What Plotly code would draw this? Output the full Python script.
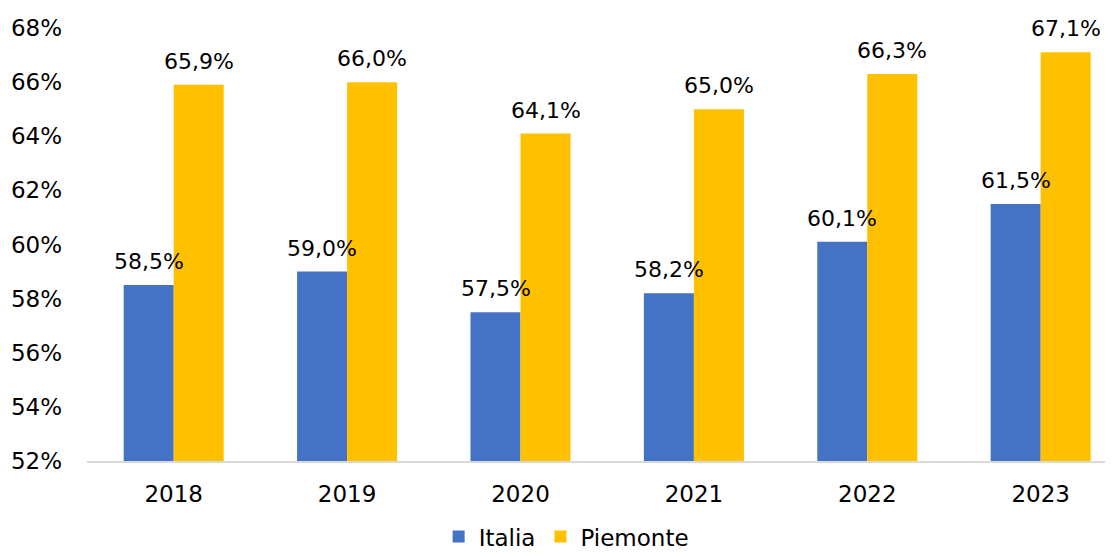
import plotly.graph_objects as go

years = ["2018", "2019", "2020", "2021", "2022", "2023"]
italia = [58.5, 59.0, 57.5, 58.2, 60.1, 61.5]
piemonte = [65.9, 66.0, 64.1, 65.0, 66.3, 67.1]
ytick_vals = [52, 54, 56, 58, 60, 62, 64, 66, 68]
ytick_text = ["52%", "54%", "56%", "58%", "60%", "62%", "64%", "66%", "68%"]

FONT = "DejaVu Sans"
BLUE = "#4472C4"
GOLD = "#FFC000"

def fmt(v):
    return f"{v:.1f}".replace(".", ",") + "%"

fig = go.Figure()
fig.add_trace(go.Bar(name="Italia", x=years, y=italia, marker_color=BLUE,
                     marker_line_width=0, hoverinfo="skip"))
fig.add_trace(go.Bar(name="Piemonte", x=years, y=piemonte, marker_color=GOLD,
                     marker_line_width=0, hoverinfo="skip"))

annotations = []
for i, yr in enumerate(years):
    # category index i on the category axis
    annotations.append(dict(x=i, y=italia[i], xref="x", yref="y", text=fmt(italia[i]),
                            showarrow=False, yanchor="bottom", xshift=-25, yshift=9,
                            font=dict(family=FONT, size=22, color="#000000")))
    annotations.append(dict(x=i, y=piemonte[i], xref="x", yref="y", text=fmt(piemonte[i]),
                            showarrow=False, yanchor="bottom", xshift=25, yshift=9,
                            font=dict(family=FONT, size=22, color="#000000")))

# the page body has an 8px margin, so the figure is offset by (8, 8)
fig.update_layout(
    width=1105, height=549,
    margin=dict(l=79, r=0, t=20, b=96, autoexpand=False),
    paper_bgcolor="white", plot_bgcolor="white",
    barmode="group", bargap=0.423, bargroupgap=0,
    font=dict(family=FONT, size=23, color="#000000"),
    annotations=annotations,
    showlegend=True,
    legend=dict(orientation="h", x=0.467, xanchor="center", y=-0.125, yanchor="top",
                font=dict(family=FONT, size=23, color="#000000"),
                itemwidth=30, tracegroupgap=0),
    xaxis=dict(type="category", range=[-0.5, 5.417], automargin=False,
               showline=True, linecolor="#D9D9D9", linewidth=1.5,
               ticks="", showgrid=False, ticklabelstandoff=12,
               tickfont=dict(family=FONT, size=23, color="#000000")),
    yaxis=dict(range=[52, 68], tickvals=ytick_vals, ticktext=ytick_text, automargin=False,
               showgrid=False, zeroline=False, showline=False, ticks="",
               ticklabelstandoff=24,
               tickfont=dict(family=FONT, size=23, color="#000000")),
)

fig.write_html("out.html")
